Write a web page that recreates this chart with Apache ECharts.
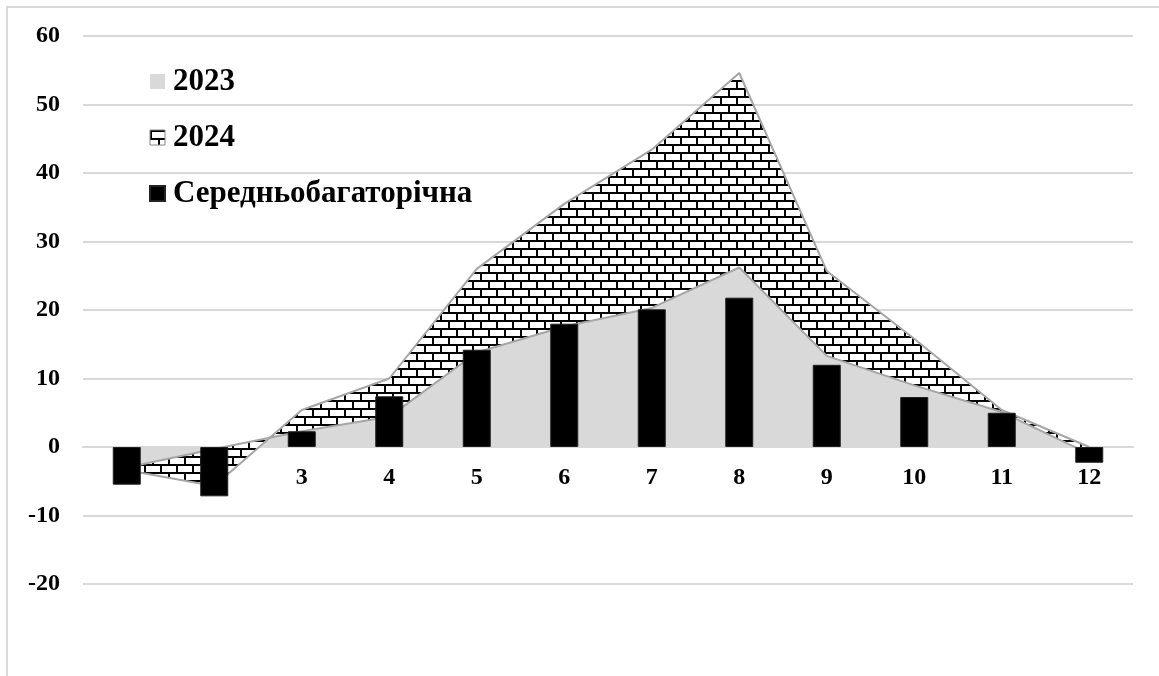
<!DOCTYPE html>
<html><head><meta charset="utf-8">
<script src="https://cdn.jsdelivr.net/npm/echarts@6/dist/echarts.min.js"></script>
<style>html,body{margin:0;padding:0;background:#fff;}#c{width:1159px;height:676px;}</style>
</head><body><div id="c"></div>
<script>
const categories = ['1','2','3','4','5','6','7','8','9','10','11','12'];
const values2023 = [-3.0, -0.3, 2.3, 4.4, 13.8, 17.6, 20.3, 26.2, 13.3, 9.0, 5.1, -1.0];
const values2024 = [-0.4, -5.4, 3.1, 5.6, 12.2, 17.9, 23.1, 28.4, 12.4, 6.8, 0.3, 1.0];
const valuesAvg = [-5.5, -7.2, 2.3, 7.4, 14.2, 18.0, 20.1, 21.8, 12.0, 7.3, 5.0, -2.3];
const names = ['2023', '2024', 'Середньобагаторічна'];

function brick() {
  const c = document.createElement('canvas');
  c.width = 16; c.height = 16;
  const g = c.getContext('2d');
  g.fillStyle = '#fff'; g.fillRect(0,0,16,16);
  g.fillStyle = '#000';
  g.fillRect(0,0,16,2);
  g.fillRect(0,8,16,2);
  g.fillRect(0,0,2,8);
  g.fillRect(8,8,2,8);
  return c;
}
const pat = {image: brick(), repeat: 'repeat'};
const font = 'Liberation Serif, Times New Roman, serif';
const chart = echarts.init(document.getElementById('c'), null, {renderer: 'canvas'});
chart.setOption({
  animation: false,
  graphic: [{type:'rect', shape:{x:7,y:7,width:1200,height:720}, style:{fill:'none', stroke:'#d9d9d9', lineWidth:2}, z:-1}],
  grid: {left: 83, right: 26, top: 36, bottom: 92},
  legend: {
    orient: 'vertical', left: 144, top: 61, itemWidth: 15, itemHeight: 15, itemGap: 25,
    textStyle: {fontFamily: font, fontWeight: 'bold', fontSize: 31, color: '#000', padding: [0,0,0,3]},
    data: [
      {name: names[0], icon: 'rect', itemStyle: {color: '#d9d9d9'}},
      {name: names[1], icon: 'rect', itemStyle: {color: pat, borderColor: '#888', borderWidth: 1}},
      {name: names[2], icon: 'rect', itemStyle: {color: '#000'}}
    ]
  },
  xAxis: {
    type: 'category', data: categories, boundaryGap: true, offset: -137,
    axisLine: {show: true, onZero: false, lineStyle: {color: '#d9d9d9', width: 2}},
    axisTick: {show: false},
    axisLabel: {fontFamily: font, fontWeight: 'bold', fontSize: 24, color: '#000', margin: 19},
    splitLine: {show: false}
  },
  yAxis: {
    type: 'value', min: -20, max: 60, interval: 10,
    axisLine: {show: false}, axisTick: {show: false},
    axisLabel: {fontFamily: font, fontWeight: 'bold', fontSize: 24, color: '#000', margin: 23},
    splitLine: {lineStyle: {color: '#d9d9d9', width: 2}}
  },
  series: [
    {name: names[0], type: 'line', stack: 'a', stackStrategy: 'all', data: values2023, symbol: 'none',
     lineStyle: {color: '#a6a6a6', width: 2}, itemStyle: {color: '#d9d9d9'}, areaStyle: {color: '#d9d9d9', opacity: 1}, z: 2},
    {name: names[1], type: 'line', stack: 'a', stackStrategy: 'all', data: values2024, symbol: 'none',
     lineStyle: {color: '#a6a6a6', width: 2}, itemStyle: {color: '#888'}, areaStyle: {color: pat, opacity: 1}, z: 2},
    {name: names[2], type: 'bar', data: valuesAvg, barWidth: 28,
     itemStyle: {color: '#000', borderColor: '#222', borderWidth: 1}, z: 4}
  ]
});
</script></body></html>
